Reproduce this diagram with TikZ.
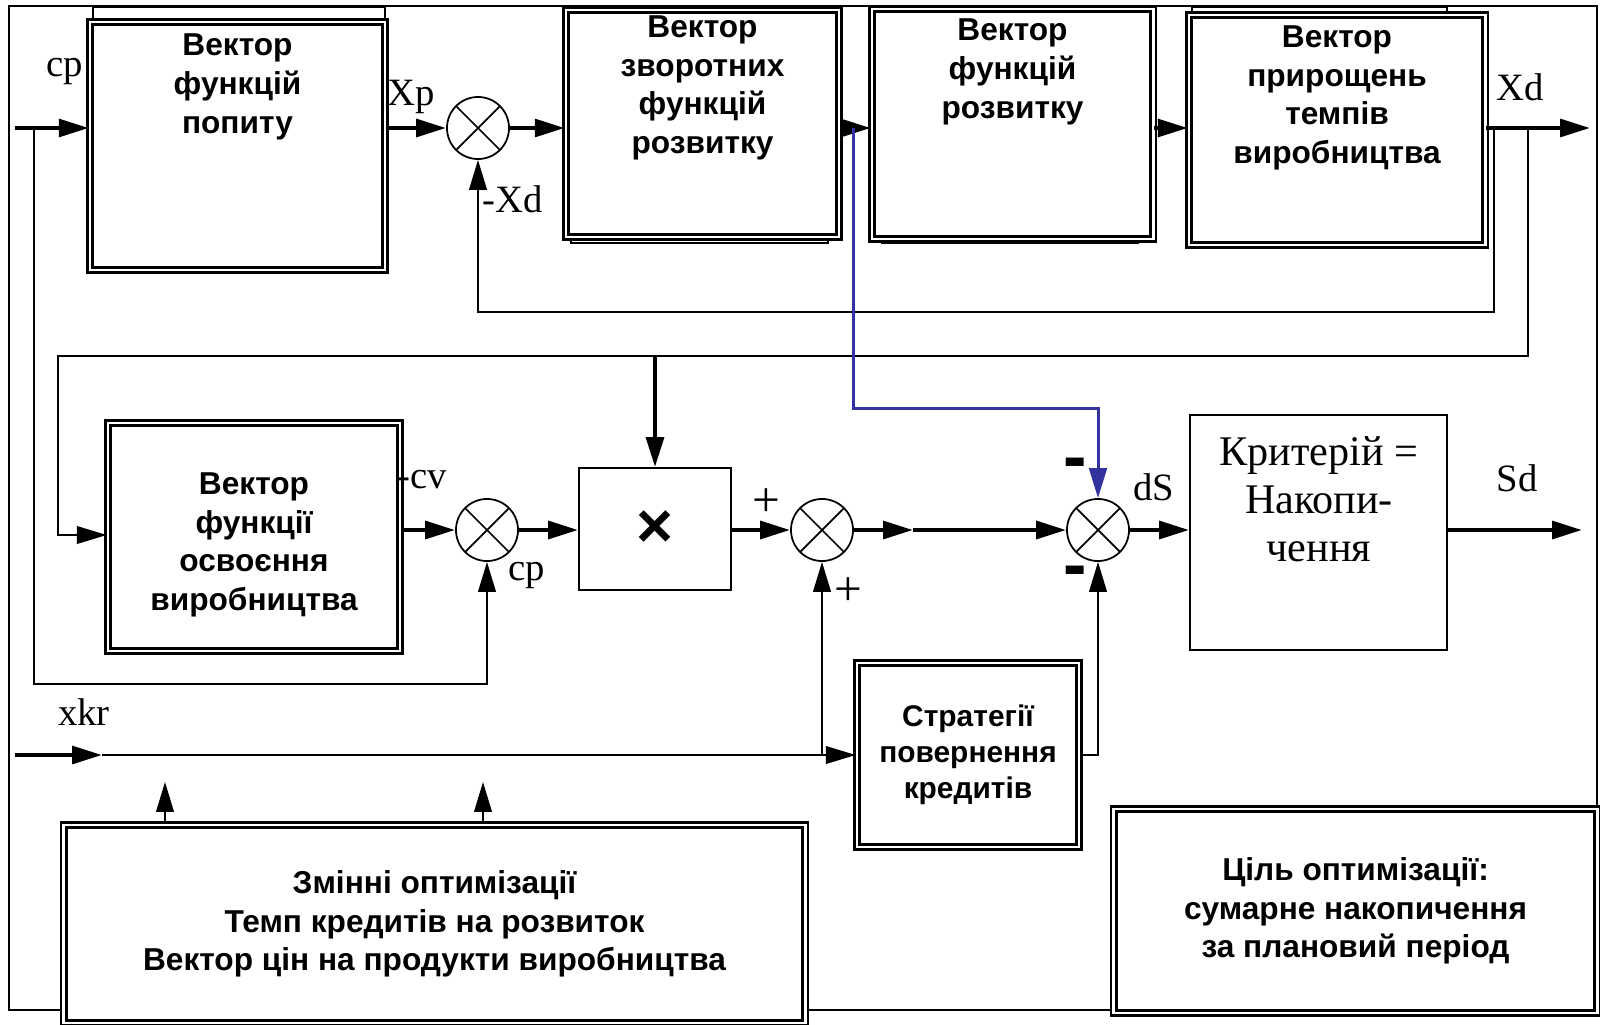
\documentclass[tikz,border=0pt]{standalone}
\usepackage{fontspec}
\setmainfont{Liberation Serif}
\newfontfamily\blockfont{Liberation Sans}
\usetikzlibrary{arrows.meta}
\definecolor{bluewire}{RGB}{51,51,160}

\begin{document}
\begin{tikzpicture}[x=0.01cm, y=-0.01cm,
    >={Triangle[length=8.5pt,width=5pt]},
    blk/.style={draw, fill=white, line width=0.7pt, double, double distance=0.8pt, inner sep=0pt},
    plainbox/.style={draw, fill=white, line width=0.5pt, inner sep=0pt},
    sumnode/.style={circle, draw, fill=white, line width=0.5pt, minimum size=0.62cm, inner sep=0pt,
      path picture={\draw[line width=0.5pt] (path picture bounding box.north west) -- (path picture bounding box.south east)
        (path picture bounding box.north east) -- (path picture bounding box.south west);}},
    txt/.style={align=center, inner sep=0pt, font=\blockfont\bfseries\fontsize{9}{11}\selectfont},
    crit/.style={align=center, inner sep=0pt, font=\fontsize{12}{13.6}\selectfont},
    lbl/.style={inner sep=0pt, font=\fontsize{11}{11}\selectfont},
    pm/.style={inner sep=0pt, font=\fontsize{14}{14}\selectfont},
    mns/.style={inner sep=0pt, font=\blockfont\bfseries\fontsize{20}{20}\selectfont},
    sig/.style={line width=1.2pt},
    wire/.style={line width=0.6pt},
    ghost/.style={line width=0.45pt}]
    \useasboundingbox (0,0) rectangle (1600,1024);
    \draw[line width=0.4pt] (9,6) rectangle (1597,1010);

    % shadows of the old drawing
    \draw[ghost] (93,23) -- (93,7) -- (385,7) -- (385,23);
    \draw[ghost] (571,232) -- (571,243) -- (828,243) -- (828,237);
    \draw[ghost] (882,239) -- (882,243) -- (1138,243) -- (1138,239);
    \draw[ghost] (1192,15) -- (1192,7) -- (1447,7) -- (1447,15);

    % upper row
    \node[blk, minimum width=2.95cm, minimum height=2.48cm] (b1) at (237.5,146) {};
    \node[txt] (t1) at (237.5,87) {Вектор\\функцій\\попиту};
    \node[sumnode] (s1) at (478,128) {};
    \node[blk, minimum width=2.73cm, minimum height=2.27cm] (b2) at (702.5,123.5) {};
    \node[txt] (t2) at (702.5,88) {Вектор\\зворотних\\функцій\\розвитку};
    \node[blk, minimum width=2.81cm, minimum height=2.30cm] (b3) at (1012.5,124) {};
    \node[txt] (t3) at (1012.5,72) {Вектор\\функцій\\розвитку};
    \node[blk, minimum width=2.96cm, minimum height=2.30cm] (b4) at (1337,130) {};
    \node[txt] (t4) at (1337,98) {Вектор\\прирощень\\темпів\\виробництва};

    \coordinate (in1) at (15,128);
    \coordinate (j1) at (34,128);
    \coordinate (bl) at (853,128);
    \coordinate (x1) at (1494,128);
    \coordinate (x2) at (1528,128);
    \coordinate (out1) at (1590,128);
    \coordinate (c2) at (58,356);

    \draw[sig,->] (in1) -- (in1 -| b1.west);
    \draw[sig,->] (b1.east |- s1) -- (s1);
    \draw[sig,->] (s1) -- (s1 -| b2.west);
    \draw[sig,->] (b2.east |- bl) -- (bl -| b3.west);
    \draw[sig,->] (b3.east |- x1) -- (x1 -| b4.west);
    \draw[sig,->] (b4.east |- out1) -- (out1);
    \draw[wire,->] (x1) -- ++(0,184) -| (s1);

    \node[lbl] (lcp) at (65,72) {cp};
    \node[lbl] (lxp) at (411,97) {Xp};
    \node[lbl] (lmxd) at (513,199) {-Xd};
    \node[lbl] (lxd) at (1520,87) {Xd};

    % lower row
    \node[blk, minimum width=2.92cm, minimum height=2.28cm] (b5) at (254,537) {};
    \node[txt] (t5) at (254,545) {Вектор\\функції\\освоєння\\виробництва};
    \node[sumnode] (s2) at (487,530) {};
    \node[plainbox, minimum width=1.52cm, minimum height=1.22cm, font=\blockfont\bfseries\fontsize{18}{18}\selectfont] (m) at (655,529) {×};
    \node[sumnode] (s3) at (822,530) {};
    \node[sumnode] (s4) at (1098,530) {};
    \node[plainbox, minimum width=2.57cm, minimum height=2.35cm] (b6) at (1318.5,532.5) {};
    \node[crit] (t6) at (1319,499) {Критерій =\\Накопи-\\чення};

    \coordinate (mid) at (913,530);
    \coordinate (out2) at (1582,530);

    \draw[wire,->] (x2) |- (c2) -- ++(0,179) -- (b5.west |- 0,535);
    \draw[sig,->] (c2 -| m) -- (m);
    \draw[sig,->] (b5.east |- s2) -- (s2);
    \draw[sig,->] (s2) -- (s2 -| m.west);
    \draw[sig,->] (m.east |- s3) -- (s3);
    \draw[sig,->] (s3) -- (mid);
    \draw[sig,->] (mid) -- (s4);
    \draw[sig,->] (s4) -- (s4 -| b6.west);
    \draw[sig,->] (b6.east |- out2) -- (out2);
    \draw[wire,->] (j1) -- ++(0,556) -| (s2);
    \draw[line width=0.85pt, draw=bluewire, ->] (bl) -- ++(0,280) -| (s4);

    \node[lbl] (lcv) at (422,480) {-cv};
    \node[lbl] (lcp2) at (527,575) {cp};
    \node[pm] (pl1) at (766,503) {+};
    \node[pm] (pl2) at (848,592) {+};
    \node[mns] (mn1) at (1075,469) {-};
    \node[mns] (mn2) at (1075,577) {-};
    \node[lbl] (lds) at (1154,487) {dS};
    \node[lbl] (lsd) at (1517,478) {Sd};

    % credits
    \coordinate (in2) at (15,755);
    \coordinate (k1) at (102,755);
    \node[blk, txt, font=\blockfont\bfseries\fontsize{8.5}{10.3}\selectfont, minimum width=2.22cm, minimum height=1.84cm] (b7) at (968,755) {Стратегії\\повернення\\кредитів};
    \draw[sig,->] (in2) -- (k1);
    \draw[wire,->] (k1) -- (b7);
    \draw[wire,->] (k1 -| s3) -- (s3);
    \draw[wire,->] (b7) -| (s4);
    \node[lbl] (lxkr) at (84,712) {xkr};

    % bottom boxes
    \node[blk, txt, minimum width=7.41cm, minimum height=1.98cm] (b8) at (434.5,924) {Змінні оптимізації\\Темп кредитів на розвиток\\Вектор цін на продукти виробництва};
    \node[blk, txt, minimum width=4.83cm, minimum height=2.04cm] (b9) at (1355.5,911) {Ціль оптимізації:\\сумарне накопичення\\за плановий період};
    \coordinate (u1) at (165,782);
    \coordinate (u2) at (483,782);
    \draw[wire,->] (u1 |- b8.north) -- (u1);
    \draw[wire,->] (u2 |- b8.north) -- (u2);
\end{tikzpicture}
\end{document}
